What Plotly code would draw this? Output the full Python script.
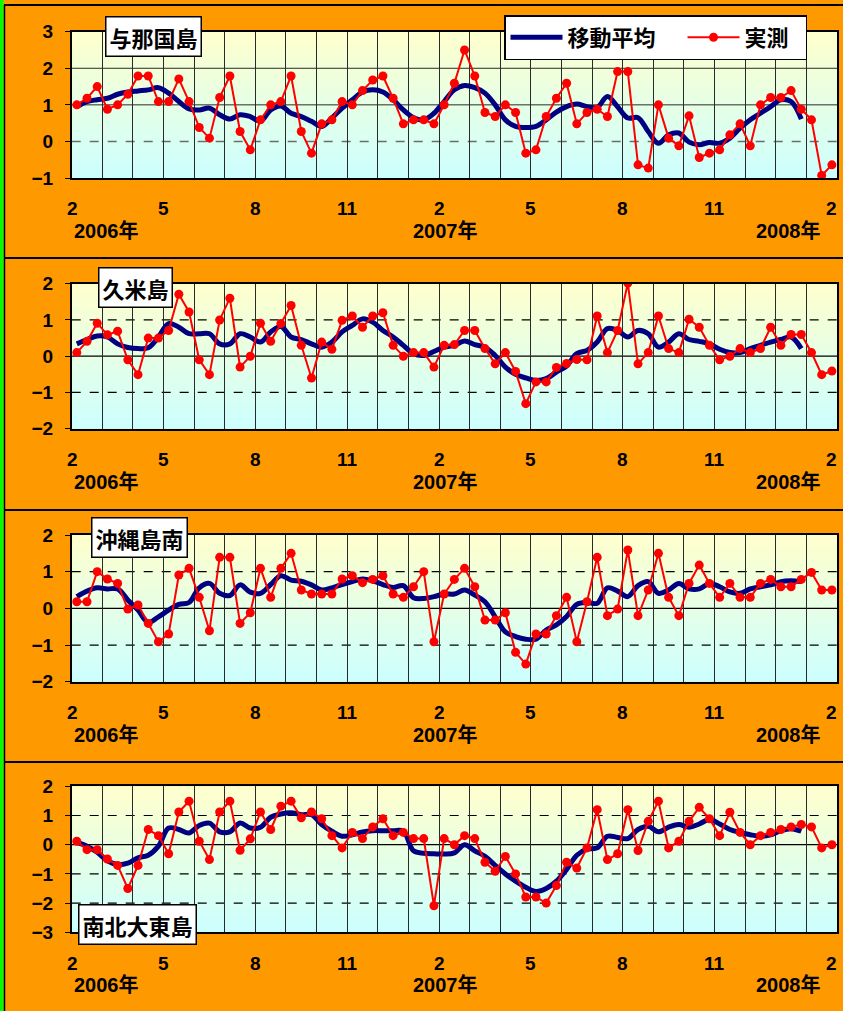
import plotly.graph_objects as go

W, H = 843, 1011

# ---------------- data (dekad / 旬 values, Feb 2006 - Feb 2008) ----------------
stations = ["与那国島", "久米島", "沖縄島南", "南北大東島"]

yonaguni_obs = [1.0, 1.18, 1.5, 0.88, 1.0, 1.29, 1.79, 1.79, 1.09, 1.09, 1.71, 1.09, 0.38, 0.09, 1.2,
                1.79, 0.27, -0.23, 0.59, 1.0, 1.09, 1.79, 0.27, -0.32, 0.48, 0.59, 1.09, 1.0, 1.39, 1.68,
                1.79, 1.18, 0.48, 0.59, 0.59, 0.48, 1.0, 1.59, 2.5, 1.79, 0.79, 0.68, 1.0, 0.79, -0.32,
                -0.23, 0.68, 1.18, 1.59, 0.48, 0.79, 0.88, 0.68, 1.91, 1.91, -0.64, -0.73, 1.0, 0.09, -0.12,
                0.7, -0.44, -0.32, -0.23, 0.18, 0.48, -0.12, 1.0, 1.2, 1.2, 1.39, 0.88, 0.59, -0.93, -0.64]
yonaguni_ma = [0.95, 1.09, 1.14, 1.18, 1.29, 1.35, 1.38, 1.41, 1.47, 1.32, 1.09, 0.89, 0.86, 0.91, 0.73,
               0.61, 0.73, 0.68, 0.55, 0.86, 0.97, 0.77, 0.68, 0.55, 0.41, 0.64, 0.91, 1.14, 1.35, 1.41,
               1.35, 1.14, 0.86, 0.65, 0.59, 0.77, 1.09, 1.41, 1.53, 1.47, 1.32, 1.0, 0.59, 0.41, 0.38,
               0.41, 0.59, 0.8, 0.95, 1.02, 0.95, 0.93, 1.23, 0.95, 0.64, 0.65, 0.27, -0.05, 0.18, 0.23,
               -0.02, -0.09, -0.03, -0.05, 0.09, 0.36, 0.59, 0.77, 0.95, 1.14, 1.09, 0.61]

kume_obs = [0.1, 0.41, 0.91, 0.59, 0.69, -0.1, -0.51, 0.5, 0.5, 0.71, 1.71, 1.22, -0.1, -0.51, 1.0,
            1.6, -0.3, 0.0, 0.91, 0.41, 0.9, 1.4, 0.3, -0.6, 0.39, 0.19, 0.99, 1.11, 0.8, 1.11,
            1.2, 0.3, 0.0, 0.1, 0.1, -0.3, 0.3, 0.32, 0.71, 0.71, 0.21, -0.21, 0.1, -0.42, -1.31,
            -0.71, -0.71, -0.31, -0.2, -0.09, -0.1, 1.11, 0.1, 0.71, 2.02, -0.21, 0.1, 1.11, 0.21, 0.1,
            1.02, 0.8, 0.3, -0.1, 0.0, 0.21, 0.1, 0.21, 0.8, 0.3, 0.6, 0.6, 0.1, -0.51, -0.41]
kume_ma = [0.34, 0.46, 0.56, 0.53, 0.34, 0.24, 0.21, 0.23, 0.53, 0.9, 0.8, 0.62, 0.62, 0.62, 0.34,
           0.34, 0.62, 0.53, 0.39, 0.67, 0.82, 0.53, 0.46, 0.34, 0.25, 0.39, 0.67, 0.85, 1.03, 0.94,
           0.71, 0.53, 0.3, 0.07, 0.02, 0.13, 0.25, 0.3, 0.42, 0.32, 0.25, 0.02, -0.3, -0.5, -0.6,
           -0.67, -0.62, -0.44, -0.27, 0.07, 0.16, 0.39, 0.76, 0.71, 0.53, 0.71, 0.62, 0.25, 0.39, 0.62,
           0.46, 0.41, 0.34, 0.19, 0.1, 0.1, 0.21, 0.3, 0.39, 0.46, 0.53, 0.21]

okinawa_s_obs = [0.18, 0.18, 1.0, 0.8, 0.68, -0.02, 0.09, -0.41, -0.91, -0.7, 0.91, 1.09, 0.3, -0.61, 1.39,
                 1.39, -0.41, -0.12, 1.09, 0.3, 1.09, 1.5, 0.5, 0.39, 0.39, 0.39, 0.8, 0.89, 0.7, 0.79,
                 0.89, 0.39, 0.3, 0.59, 1.0, -0.91, 0.39, 0.79, 1.09, 0.59, -0.32, -0.32, -0.12, -1.2, -1.52,
                 -0.7, -0.7, -0.2, 0.3, -0.91, 0.18, 1.39, -0.2, -0.02, 1.59, -0.2, 0.5, 1.5, 0.3, -0.2,
                 0.68, 1.18, 0.68, 0.3, 0.68, 0.3, 0.3, 0.68, 0.79, 0.59, 0.59, 0.79, 0.98, 0.5, 0.5]
okinawa_s_ma = [0.32, 0.47, 0.56, 0.53, 0.53, 0.23, -0.05, -0.38, -0.23, -0.05, 0.11, 0.16, 0.56, 0.68, 0.41,
                0.35, 0.64, 0.44, 0.41, 0.65, 0.89, 0.77, 0.74, 0.64, 0.5, 0.56, 0.65, 0.73, 0.8, 0.75,
                0.65, 0.57, 0.62, 0.29, 0.27, 0.32, 0.39, 0.39, 0.5, 0.36, 0.18, -0.23, -0.64, -0.77, -0.84,
                -0.84, -0.59, -0.45, -0.22, 0.11, 0.16, 0.14, 0.56, 0.47, 0.32, 0.62, 0.73, 0.41, 0.5, 0.68,
                0.53, 0.53, 0.68, 0.59, 0.45, 0.41, 0.53, 0.59, 0.64, 0.73, 0.75, 0.73]

daito_obs = [0.12, -0.17, -0.17, -0.49, -0.71, -1.5, -0.71, 0.52, 0.31, -0.31, 1.12, 1.49, 0.12, -0.51, 1.12,
             1.49, -0.19, 0.2, 1.12, 0.52, 1.32, 1.49, 0.92, 1.12, 0.89, 0.31, -0.11, 0.42, 0.21, 0.61,
             0.89, 0.31, 0.42, 0.21, 0.21, -2.09, 0.21, 0.0, 0.31, 0.21, -0.6, -0.91, -0.4, -1.0, -1.79,
             -1.79, -2.0, -1.4, -0.6, -0.8, -0.11, 1.2, -0.51, -0.31, 1.2, -0.2, 0.8, 1.49, -0.11, 0.12,
             0.8, 1.28, 0.89, 0.31, 1.11, 0.42, 0.0, 0.31, 0.42, 0.52, 0.61, 0.69, 0.61, -0.11, 0.0]
daito_ma = [0.09, -0.05, -0.26, -0.55, -0.68, -0.63, -0.45, -0.36, -0.05, 0.57, 0.52, 0.4, 0.66, 0.74, 0.44,
            0.44, 0.74, 0.57, 0.6, 0.94, 1.05, 1.09, 1.03, 1.03, 0.69, 0.46, 0.29, 0.34, 0.44, 0.48,
            0.48, 0.48, 0.46, -0.21, -0.29, -0.31, -0.32, -0.28, 0.0, -0.21, -0.4, -0.71, -1.0, -1.25, -1.46,
            -1.6, -1.5, -1.25, -0.85, -0.36, -0.15, -0.11, 0.29, 0.25, 0.21, 0.52, 0.63, 0.44, 0.6, 0.69,
            0.6, 0.71, 0.86, 0.71, 0.52, 0.42, 0.34, 0.29, 0.34, 0.48, 0.55, 0.46]

obs_series = [yonaguni_obs, kume_obs, okinawa_s_obs, daito_obs]
ma_series = [yonaguni_ma, kume_ma, okinawa_s_ma, daito_ma]
y_ranges = [(-1, 3), (-2, 2), (-2, 2), (-3, 2)]

month_labels = ["2", "5", "8", "11", "2", "5", "8", "11", "2"]
month_label_pos = [0.1, 9, 18, 27, 36, 45, 54, 63, 74.5]   # dekad units
year_labels = ["2006年", "2007年", "2008年"]
year_label_pos = [3.4, 36.6, 70.2]

# ---------------- layout geometry (pixels) ----------------
plot_x0, plot_x1 = 71.7, 837
panels_px = [(31.7, 178), (283.7, 428.7), (535, 681.7), (786.3, 932.3)]
title_boxes = [(153.5, 36.5), (135.5, 287), (139.5, 537), (137.5, 924.5)]
sep_lines = [5, 258, 510, 762]

ORANGE = "#FF9900"
TOP_COL = (255, 255, 204)
BOT_COL = (204, 255, 255)


def py(p):
    return 1 - p / H


def px(p):
    return p / W


fig = go.Figure()
shapes = []
annotations = []
layout_axes = {}

for k in range(4):
    n = k + 1
    xa = "x" if n == 1 else f"x{n}"
    ya = "y" if n == 1 else f"y{n}"
    top, bot = panels_px[k]
    lo, hi = y_ranges[k]

    obs = obs_series[k]
    ma = ma_series[k]
    x_obs = [i + 0.5 for i in range(len(obs))]
    x_ma = [i + 0.5 for i in range(len(ma))]

    fig.add_trace(go.Scatter(x=x_ma, y=ma, mode="lines", name="移動平均\u3000",
                             line=dict(color="#000080", width=5, shape="spline", smoothing=1.0),
                             xaxis=xa, yaxis=ya, showlegend=(k == 0), hoverinfo="skip"))
    fig.add_trace(go.Scatter(x=x_obs, y=obs, mode="lines+markers", name="実測\u2002",
                             line=dict(color="#FF0000", width=2),
                             marker=dict(color="#FF0000", size=9),
                             xaxis=xa, yaxis=ya, showlegend=(k == 0), hoverinfo="skip"))

    xkey = "xaxis" if n == 1 else f"xaxis{n}"
    ykey = "yaxis" if n == 1 else f"yaxis{n}"
    layout_axes[xkey] = dict(domain=[px(plot_x0), px(plot_x1)], range=[0, 75], anchor=ya,
                             tick0=0, dtick=3, showticklabels=False, ticks="",
                             showgrid=True, gridcolor="#2a2a2a", gridwidth=1, zeroline=False,
                             showline=True, linecolor="black", linewidth=1.5, mirror=True,
                             fixedrange=True, automargin=False)
    layout_axes[ykey] = dict(domain=[py(bot), py(top)], range=[lo, hi], anchor=xa,
                             tickvals=list(range(lo, hi + 1)), ticks="outside", ticklen=5,
                             tickcolor="black", ticklabelstandoff=8,
                             tickfont=dict(family="Liberation Sans, Arial", size=19, color="black",
                                           weight="bold"),
                             showgrid=False, zeroline=False,
                             showline=True, linecolor="black", linewidth=1.5, mirror=True,
                             fixedrange=True, automargin=False)

    # gradient background
    N = 40
    for j in range(N):
        t = (j + 0.5) / N  # 0 bottom -> 1 top
        c = tuple(round(BOT_COL[m] + (TOP_COL[m] - BOT_COL[m]) * t) for m in range(3))
        shapes.append(dict(type="rect", xref=f"{xa} domain", yref=f"{ya} domain",
                           x0=0, x1=1, y0=j / N, y1=min(1, (j + 1) / N + 0.003),
                           fillcolor=f"rgb{c}", line=dict(width=0), layer="below"))

    # horizontal grid lines
    for v in range(lo + 1, hi):
        if k == 0:
            if v == 0:
                ln = dict(color="#6b6b6b", width=1.5, dash="dash")
            else:
                ln = dict(color="#2a2a2a", width=1)
        else:
            if v == 0:
                ln = dict(color="black", width=1.2)
            else:
                ln = dict(color="black", width=1.2, dash="dash")
        shapes.append(dict(type="line", xref=f"{xa} domain", yref=ya, x0=0, x1=1, y0=v, y1=v,
                           line=ln, layer="below"))

    # x labels
    lab_y = bot + 31
    for lab, pos in zip(month_labels, month_label_pos):
        annotations.append(dict(text=f"<b>{lab}</b>", x=pos, xref=xa, y=py(lab_y), yref="paper",
                                showarrow=False, xanchor="center", yanchor="middle",
                                font=dict(family="Liberation Sans, Arial", size=19, color="black")))
    for lab, pos in zip(year_labels, year_label_pos):
        annotations.append(dict(text=f"<b>{lab}</b>", x=pos, xref=xa, y=py(lab_y + 22), yref="paper",
                                showarrow=False, xanchor="center", yanchor="middle",
                                font=dict(family="Liberation Sans, Noto Sans CJK JP", size=20,
                                          color="black")))

    # station title box
    cx, cy = title_boxes[k]
    annotations.append(dict(text=f"<b>{stations[k]}</b>", x=px(cx), y=py(cy), xref="paper", yref="paper",
                            showarrow=False, xanchor="center", yanchor="middle",
                            bgcolor="white", bordercolor="black", borderwidth=1.5, borderpad=3,
                            font=dict(family="Noto Sans CJK JP", size=22, color="black")))

# panel separators & frame
for s in sep_lines:
    shapes.append(dict(type="line", xref="paper", yref="paper", x0=px(4), x1=1, y0=py(s), y1=py(s),
                       line=dict(color="black", width=2), layer="above"))
shapes.append(dict(type="rect", xref="paper", yref="paper", x0=0, x1=px(3.5), y0=0, y1=1,
                   fillcolor="#00FF00", line=dict(width=0), layer="above"))
shapes.append(dict(type="line", xref="paper", yref="paper", x0=px(4.5), x1=px(4.5), y0=0, y1=py(5),
                   line=dict(color="black", width=1.5), layer="above"))

fig.update_layout(
    width=W, height=H, autosize=False,
    margin=dict(l=0, r=0, t=0, b=0, pad=0, autoexpand=False),
    paper_bgcolor=ORANGE, plot_bgcolor="#E6FFE6",
    shapes=shapes, annotations=annotations,
    showlegend=True,
    legend=dict(orientation="h", x=px(504), y=py(15), xanchor="left", yanchor="top",
                bgcolor="white", bordercolor="black", borderwidth=1.5,
                font=dict(family="Noto Sans CJK JP", size=22, color="black", weight="bold"),
                itemwidth=52, tracegroupgap=0),
    **layout_axes,
)

post = ("document.documentElement.style.margin='0';document.body.style.margin='0';"
        "document.body.style.padding='0';document.body.style.overflow='hidden';"
        "var d=document.getElementById('{plot_id}');d.style.position='absolute';"
        "d.style.left='0px';d.style.top='0px';")

fig.write_html("out.html", config={"responsive": False, "displayModeBar": False},
               post_script=post)
